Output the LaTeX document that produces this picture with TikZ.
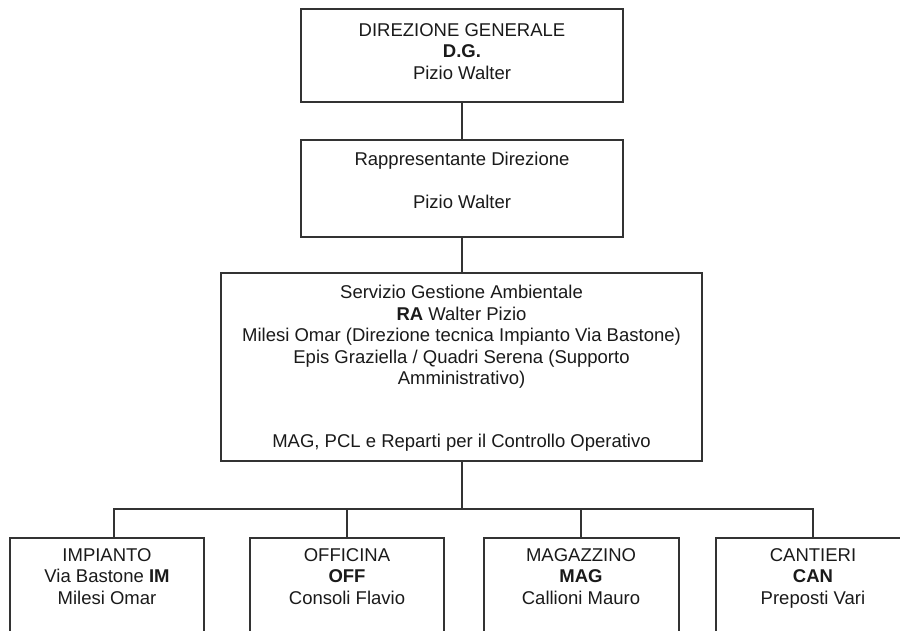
\documentclass[tikz,border=0pt]{standalone}
\usepackage{fontspec}
\setmainfont{Liberation Sans}
\definecolor{linec}{HTML}{333333}
\definecolor{textc}{HTML}{1A1A1A}
\tikzset{
  box/.style={draw=linec, line width=2pt, fill=white, inner sep=0pt},
  conn/.style={draw=linec, line width=1.3pt},
  txt/.style={align=center, inner sep=0pt, anchor=north, text=textc,
    font=\fontsize{18.5}{21.5}\selectfont},
}
\begin{document}
\begin{tikzpicture}[x=1pt,y=-1pt]
\useasboundingbox (0,0) rectangle (900,630);
\fill[white] (0,0) rectangle (900,630);
\clip (0,0) rectangle (900,630);

% boxes
\node[box, minimum width=322pt, minimum height=93pt] (dg) at (462,55.5) {};
\node[box, minimum width=322pt, minimum height=97pt] (rd) at (462,188.5) {};
\node[box, minimum width=481pt, minimum height=188pt] (sga) at (461.5,367) {};
\node[box, minimum width=194pt, minimum height=162pt] (imp) at (107,619) {};
\node[box, minimum width=194pt, minimum height=162pt] (off) at (347,619) {};
\node[box, minimum width=195pt, minimum height=162pt] (mag) at (581,619) {};
\node[box, minimum width=194pt, minimum height=162pt] (can) at (813,619) {};

% texts
\node[txt] (tdg) at (462,23) {DIREZIONE GENERALE\\\textbf{D.G.}\\Pizio Walter};
\node[txt] (trd) at (462,152) {Rappresentante Direzione\\[21.5pt]Pizio Walter};
\node[txt] (tsga) at (461.5,285) {Servizio Gestione Ambientale\\
  \textbf{RA} Walter Pizio\\
  Milesi Omar (Direzione tecnica Impianto Via Bastone)\\
  Epis Graziella / Quadri Serena (Supporto\\
  Amministrativo)\\[41pt]
  MAG, PCL e Reparti per il Controllo Operativo};
\node[txt] (timp) at (107,548) {IMPIANTO\\Via Bastone \textbf{IM}\\Milesi Omar};
\node[txt] (toff) at (347,548) {OFFICINA\\\textbf{OFF}\\Consoli Flavio};
\node[txt] (tmag) at (581,548) {MAGAZZINO\\\textbf{MAG}\\Callioni Mauro};
\node[txt] (tcan) at (813,548) {CANTIERI\\\textbf{CAN}\\Preposti Vari};

% connectors
\coordinate (bus) at (462,509);
\draw[conn] (dg.south) -- (rd.north);
\draw[conn] (rd.south) -- (rd.south |- sga.north);
\draw[conn] (sga.south -| bus) -- (bus);
\draw[conn] ([xshift=7pt]imp.north) |- (bus) -| (can.north);
\draw[conn] (off.north) -- (off.north |- bus);
\draw[conn] (mag.north) -- (mag.north |- bus);
\end{tikzpicture}
\end{document}
